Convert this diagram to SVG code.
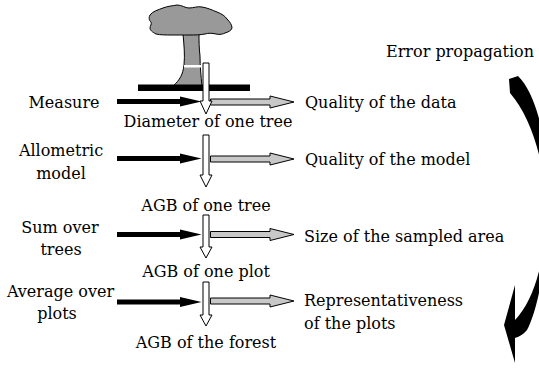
<svg xmlns="http://www.w3.org/2000/svg" width="539" height="371" viewBox="0 0 539 371">
  <defs>
    <style>
      text { font-family: "DejaVu Serif", "Liberation Serif", serif; font-size: 16px; fill: #000; }
      .mid { text-anchor: middle; }
      .flow { fill: #fff; stroke: #000; stroke-width: 1; }
      .input { fill: #000; stroke: none; }
      .source { fill: #c8c8c8; stroke: #000; stroke-width: 1; }
      .tree { fill: #999; stroke: #000; stroke-width: 1; }
    </style>
  </defs>
  <rect width="539" height="371" fill="#fff"/>

  <!-- tree illustration with measuring bar -->
  <g id="tree">
    <path class="tree" d="M183,34 C184,45 185,55 184,65 C183,74 180,80 173,86 L202,86 C201,76 200,66 200,56 C199,48 199,40 199,34 Z"/>
    <path class="tree" d="M150,15 C153,11 158,10 163,8 C168,6 172,6 177,5 C182,5 185,8 189,8 C194,8 197,6 202,7 C208,8 212,10 217,12 C222,14 225,16 227,19 C230,22 232,25 232,28 C231,31 228,32 225,33 C223,34 220,35 216,34 C212,33 208,33 205,34 C200,35 195,35 189,35 C183,35 177,35 172,35 C166,35 160,35 156,34 C152,32 150,30 150,28 C150,26 152,24 151,22 C150,21 148,19 150,15 Z"/>
    <rect x="184" y="65" width="17" height="2.5" fill="#fff"/>
    <rect x="138" y="84.5" width="112" height="6.5" fill="#000"/>
  </g>

  <!-- stage labels -->
  <g id="diameter"><text class="mid" x="208" y="127">Diameter of one tree</text></g>
  <g id="agb-tree"><text class="mid" x="206" y="211">AGB of one tree</text></g>
  <g id="agb-plot"><text class="mid" x="206" y="277">AGB of one plot</text></g>
  <g id="agb-forest"><text class="mid" x="206" y="348">AGB of the forest</text></g>

  <!-- operation labels -->
  <g id="measure"><text class="mid" x="64" y="107.5">Measure</text></g>
  <g id="allometric"><text class="mid" x="61" y="156">Allometric</text><text class="mid" x="61" y="179">model</text></g>
  <g id="sum"><text class="mid" x="60" y="232.5">Sum over</text><text class="mid" x="61" y="254.5">trees</text></g>
  <g id="average"><text class="mid" x="60.5" y="296.5">Average over</text><text class="mid" x="57" y="319">plots</text></g>

  <!-- error sources -->
  <g id="quality-data"><text x="305" y="107.5">Quality of the data</text></g>
  <g id="quality-model"><text x="305" y="164.5">Quality of the model</text></g>
  <g id="sample-size"><text x="304" y="241.5">Size of the sampled area</text></g>
  <g id="representativeness"><text x="304" y="306">Representativeness</text><text x="304" y="328.5">of the plots</text></g>

  <g id="error-propagation"><text class="mid" x="460" y="57">Error propagation</text></g>

  <g id="connectors">
    <!-- operation inputs -->
    <polygon class="input" points="117,99 180,99 180,96.5 201.5,101.5 180,106.5 180,104 117,104"/>
    <polygon class="input" points="117,156 180,156 180,153.5 201.5,158.5 180,163.5 180,161 117,161"/>
    <polygon class="input" points="117,232 180,232 180,229.5 201.5,234.5 180,239.5 180,237 117,237"/>
    <polygon class="input" points="117,299.5 180,299.5 180,297 201.5,302 180,307 180,304.5 117,304.5"/>

    <!-- error sources -->
    <polygon class="source" points="210.5,99 270,99 270,96 294,102 270,108 270,105 210.5,105"/>
    <polygon class="source" points="210.5,156 270,156 270,153 294,159 270,165 270,162 210.5,162"/>
    <polygon class="source" points="210.5,231.5 270,231.5 270,228.5 294,234.5 270,240.5 270,237.5 210.5,237.5"/>
    <polygon class="source" points="210.5,298 270,298 270,295 294,301 270,307 270,304 210.5,304"/>

    <!-- flow between stages -->
    <polygon class="flow" points="203,63 209,63 209,101 212,101 206,114 200,101 203,101"/>
    <polygon class="flow" points="203,135 209,135 209,175 212,175 206,187 200,175 203,175"/>
    <polygon class="flow" points="203,215 209,215 209,247 212,247 206,258 200,247 203,247"/>
    <polygon class="flow" points="203,282 209,282 209,315 212,315 206,326 200,315 203,315"/>

    <!-- curved error propagation arrow -->
    <path fill="#000" d="M509,79 L518,76 C538,95 549,150 549,200 C549,245 540,305 527,330 Q522,336 515,338 L515,363 L504,325 L515,285 L515,320 C535,300 547,255 546,205 C545,165 532,118 510,93 Z"/>
  </g>
</svg>
